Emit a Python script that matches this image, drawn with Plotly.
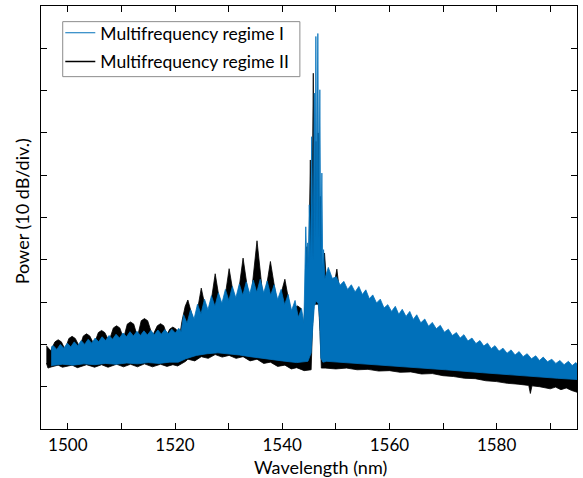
import plotly.graph_objects as go

# ---------------- data (wavelength in nm, power in dB, arbitrary 0 reference) -------------
# Multifrequency regime I (blue): upper envelope (fringe tops and notches) and lower envelope
blue_upper_nm = [1496.9,
    1497.3, 1497.95, 1498.6, 1499.25, 1499.9, 1500.55, 1501.2, 1501.85, 1502.5, 1503.15, 1503.8, 1504.45,
    1505.1, 1505.75, 1506.4, 1507.05, 1507.7, 1508.35, 1509.0, 1509.65, 1510.3, 1510.95, 1511.6, 1512.25,
    1512.9, 1513.55, 1514.2, 1514.85, 1515.5, 1516.15, 1516.8, 1517.45, 1518.1, 1518.75, 1519.4, 1520.05,
    1520.7, 1521.15,
    1521.6, 1522.25, 1522.9, 1523.55, 1524.2, 1524.85, 1525.5, 1526.15, 1526.8, 1527.45, 1528.1, 1528.75,
    1529.4, 1530.05, 1530.7, 1531.35, 1532.0, 1532.65, 1533.3, 1533.95, 1534.6, 1535.25, 1535.9, 1536.55,
    1537.2, 1537.85, 1538.5, 1539.15, 1539.8, 1540.45, 1541.1, 1541.75, 1542.4, 1543.0, 1543.6, 1544.05,
    1544.4, 1544.6, 1544.75, 1544.9, 1545.05, 1545.28, 1545.5, 1545.75, 1546.0, 1546.14, 1546.28, 1546.46,
    1546.65, 1546.84, 1547.02, 1547.2, 1547.4, 1547.56, 1547.72, 1547.95,
    1548.6, 1549.35, 1550.1, 1550.8, 1551.5, 1552.2, 1552.9, 1553.6, 1554.3, 1554.95, 1555.6, 1556.25,
    1556.9, 1557.6, 1558.3, 1559.0, 1559.7, 1560.4, 1561.1, 1561.75, 1562.4, 1563.1, 1563.8, 1564.45,
    1565.1, 1565.85, 1566.6, 1567.3, 1568.0, 1568.75, 1569.5, 1570.25, 1571.0, 1571.75, 1572.5, 1573.2,
    1573.9, 1574.65, 1575.4, 1576.15, 1576.9, 1577.6, 1578.3, 1579.0, 1579.7, 1580.45, 1581.2, 1581.95,
    1582.7, 1583.45, 1584.2, 1584.95, 1585.7, 1586.5, 1587.3, 1588.0, 1588.7, 1589.5, 1590.3, 1591.05,
    1591.8, 1592.6, 1593.4, 1594.1, 1594.8, 1595.0]
blue_upper_db = [-80.6,
    -80.3, -81.2, -80.0, -80.9, -79.7, -80.6, -79.4, -80.3, -79.1, -80.0, -78.8, -79.7,
    -78.5, -79.4, -78.2, -79.1, -77.9, -78.8, -77.6, -78.5, -77.3, -78.2, -77.0, -78.0,
    -76.9, -77.9, -76.8, -77.8, -76.7, -77.7, -76.6, -77.6, -76.5, -77.5, -76.4, -77.3,
    -76.2, -77.0,
    -73.0, -75.0, -71.8, -74.0, -70.5, -72.8, -69.3, -71.8, -68.5, -71.0, -67.8, -70.3,
    -67.0, -69.6, -66.3, -69.0, -65.7, -68.4, -65.2, -68.0, -64.8, -67.7, -64.6, -67.8,
    -65.0, -68.4, -65.9, -69.4, -67.0, -70.6, -68.2, -72.0, -69.6, -73.6, -71.5, -75.0,
    -52.2, -62.0, -56.0, -62.0, -47.0, -60.0, -30.9, -60.0, -20.6, -55.0, -7.2, -50.0,
    -6.5, -55.0, -19.8, -60.0, -39.5, -62.0, -57.6, -64.5,
    -61.8, -64.4, -64.0, -66.0, -65.1, -67.0, -65.9, -67.6, -66.3, -68.2, -67.1, -69.2,
    -68.3, -70.2, -69.3, -71.4, -70.6, -72.2, -71.0, -72.9, -71.7, -73.4, -72.2, -74.1,
    -73.0, -74.9, -74.0, -75.7, -74.8, -76.3, -75.5, -77.1, -76.4, -77.9, -77.2, -78.5,
    -77.7, -79.2, -78.5, -79.8, -79.1, -80.4, -79.7, -81.0, -80.3, -81.6, -80.9, -82.1,
    -81.3, -82.5, -81.7, -82.9, -82.2, -83.4, -82.7, -83.8, -83.0, -84.1, -83.5, -84.5,
    -83.8, -84.8, -84.0, -85.0, -84.3, -84.6]
blue_lower_nm = [1496.9, 1499, 1501, 1503, 1505, 1507, 1509, 1511, 1513, 1515, 1517, 1519, 1520.6,
    1522, 1524, 1526, 1528, 1530, 1532, 1534, 1536, 1538, 1540, 1542.7, 1544.8, 1545.4, 1545.75,
    1546.0, 1546.3, 1546.7, 1547.0, 1547.2, 1547.6, 1548.3, 1552, 1556.6, 1563.5, 1570.5, 1577.4,
    1584.3, 1591.3, 1595.0]
blue_lower_db = [-85.0, -84.7, -84.9, -84.6, -84.8, -84.5, -84.7, -84.4, -84.6, -84.3, -84.5, -84.2, -84.2,
    -83.4, -82.6, -82.2, -82.0, -82.2, -82.5, -82.9, -83.3, -83.6, -83.9, -84.3, -84.0, -82.0, -75.0,
    -71.0, -69.8, -70.2, -74.2, -83.2, -84.2, -84.0, -84.4, -84.8, -85.4, -86.0, -86.7,
    -87.4, -88.0, -88.3]

# Multifrequency regime II (black)
black_upper_nm = [1496.0, 1496.8,
    1497.6, 1498.2, 1498.8, 1499.5, 1500.2, 1500.8, 1501.4, 1502.2, 1502.9, 1503.5, 1504.1, 1504.9,
    1505.7, 1506.3, 1506.9, 1507.7, 1508.5, 1509.1, 1509.7, 1510.4, 1511.1, 1511.7, 1512.3, 1513.0,
    1513.7, 1514.3, 1514.9, 1515.8, 1516.7, 1517.3, 1517.9, 1518.5, 1519.0, 1519.6, 1520.2, 1520.9,
    1521.3, 1521.9, 1522.4, 1522.8, 1523.7, 1524.9, 1526.2, 1527.5, 1528.8, 1530.1, 1531.4, 1532.7,
    1534.0, 1535.3, 1536.55, 1537.8, 1539.15, 1540.5, 1541.7, 1542.3, 1542.9, 1543.5, 1543.9,
    1544.3, 1544.6, 1544.9, 1545.25, 1545.5, 1545.8, 1546.05, 1546.3, 1546.5, 1546.7, 1546.9, 1547.1,
    1547.4, 1547.9, 1548.3, 1549.6, 1550.2, 1550.7, 1552, 1556, 1560, 1565, 1570, 1575, 1580, 1585,
    1590, 1595.0]
black_upper_db = [-80.3, -81.5,
    -79.4, -78.9, -79.4, -81.2, -78.6, -78.1, -78.6, -80.6, -78.0, -77.5, -78.0, -80.0,
    -77.2, -76.7, -77.2, -79.2, -76.1, -75.6, -76.1, -78.6, -75.2, -74.7, -75.2, -78.2,
    -74.4, -73.9, -74.4, -78.0, -75.6, -75.1, -75.6, -77.8, -76.4, -75.9, -76.4, -77.8,
    -74.5, -71.0, -69.5, -71.5, -75.5, -66.7, -74.5, -63.3, -73.5, -62.1, -72.0, -59.6,
    -71.0, -55.5, -70.5, -60.4, -71.0, -64.6, -73.0, -71.2, -70.9, -71.5, -77.0,
    -70.0, -56.9, -66.0, -36.4, -60.0, -15.9, -60.0, -32.0, -60.0, -30.0, -60.0, -45.0,
    -64.0, -58.4, -66.0, -66.5, -62.2, -67.5, -68.5, -70.6, -73.5, -76.0, -78.3, -80.8, -82.7, -84.3,
    -85.5, -86.2]
black_lower_nm = [1496.0, 1496.3, 1497, 1498.2, 1499, 1500.8, 1501.8, 1503.5, 1505, 1506.3, 1507.5, 1509.1,
    1510.4, 1511.7, 1513, 1514.3, 1515.8, 1517.3, 1518.5, 1519.6, 1520.5,
    1522, 1522.4, 1523.7, 1524.9, 1526.2, 1527.5, 1528.8, 1530.1, 1531.4, 1532.7, 1534.0, 1535.3,
    1536.55, 1537.8, 1539.15, 1540.5, 1541.7, 1542.7, 1544.1,
    1545.4, 1545.65, 1545.9, 1546.8, 1547.05, 1547.3, 1548, 1550, 1552, 1554, 1556, 1558, 1560, 1562,
    1564, 1566, 1568, 1570, 1572, 1574, 1576, 1578, 1580, 1582, 1584, 1586, 1586.3, 1586.6, 1588,
    1590, 1591, 1592, 1593, 1594, 1595.0]
black_lower_db = [-84.4, -85.6, -85.3, -84.9, -85.4, -84.9, -85.5, -84.8, -85.4, -84.8, -85.4, -84.7,
    -85.3, -84.7, -85.3, -84.6, -85.3, -84.7, -85.2, -84.8, -85.1,
    -84.0, -83.5, -83.9, -82.9, -83.3, -82.4, -83.0, -82.6, -83.3, -82.9, -83.9, -83.5,
    -84.5, -84.2, -85.2, -84.9, -85.8, -85.5, -86.2,
    -86.0, -76.0, -70.5, -70.5, -77.0, -85.6, -85.6, -85.8, -85.6, -86.0, -85.9, -86.3, -86.2, -86.6,
    -86.5, -87.0, -86.9, -87.4, -87.6, -88.0, -88.1, -88.6, -88.8, -89.2, -89.4, -89.7, -91.6, -89.8, -90.0,
    -90.5, -90.1, -90.7, -90.3, -90.9, -91.3]

series_names = ["Multifrequency regime I", "Multifrequency regime II"]
x_tick_values = [1500, 1510, 1520, 1530, 1540, 1550, 1560, 1570, 1580, 1590]
x_tick_labels = ["1500", "", "1520", "", "1540", "", "1560", "", "1580", ""]
y_tick_values = [-100, -90, -80, -70, -60, -50, -40, -30, -20, -10, 0]

BLUE = "#0070BA"
BLACK = "#000000"
FONT = "Lato"

fig = go.Figure()

# regime II (black) drawn first, regime I (blue) on top
fig.add_trace(go.Scatter(
    x=black_upper_nm + black_lower_nm[::-1],
    y=black_upper_db + black_lower_db[::-1],
    mode="lines", fill="toself", fillcolor=BLACK,
    line=dict(color=BLACK, width=0.8), showlegend=False, hoverinfo="skip"))
fig.add_trace(go.Scatter(
    x=blue_upper_nm + blue_lower_nm[::-1],
    y=blue_upper_db + blue_lower_db[::-1],
    mode="lines", fill="toself", fillcolor=BLUE,
    line=dict(color=BLUE, width=0.8), showlegend=False, hoverinfo="skip"))

# legend entries
fig.add_trace(go.Scatter(x=[None], y=[None], mode="lines", name=series_names[0],
                         legendgroup="g1", line=dict(color=BLUE, width=1)))
fig.add_trace(go.Scatter(x=[None], y=[None], mode="lines", name=series_names[1],
                         legendgroup="g2", line=dict(color=BLACK, width=1.6)))

axis_common = dict(showline=True, linecolor="black", linewidth=1.2, mirror="ticks",
                   ticks="inside", ticklen=6, tickwidth=1.2, tickcolor="black",
                   showgrid=False, zeroline=False)

fig.update_layout(
    width=583, height=478,
    margin=dict(l=41, r=6, t=6, b=49),
    paper_bgcolor="white", plot_bgcolor="white",
    font=dict(family=FONT, size=17, color="black"),
    xaxis=dict(range=[1495, 1595], tickmode="array", tickvals=x_tick_values,
               ticktext=x_tick_labels, tickfont=dict(size=17), **axis_common),
    yaxis=dict(range=[-100, 0], tickmode="array", tickvals=y_tick_values,
               showticklabels=False, **axis_common),
    legend=dict(x=0.036, y=0.979, xanchor="left", yanchor="top",
                bgcolor="rgba(0,0,0,0)", borderwidth=0,
                font=dict(family=FONT, size=17.5), itemwidth=30,
                traceorder="grouped", tracegroupgap=3),
    shapes=[dict(type="rect", xref="paper", yref="paper",
                 x0=0.0405, x1=0.483, y0=0.833, y1=0.963,
                 line=dict(color="#8c8c8c", width=1), fillcolor="white", layer="above")],
    annotations=[
        dict(text="Wavelength (nm)", x=0.522, y=-0.089, xref="paper", yref="paper",
             xanchor="center", yanchor="middle", showarrow=False, font=dict(size=18)),
        dict(text="Power (10 dB/div.)", x=-0.036, y=0.514, xref="paper", yref="paper",
             xanchor="center", yanchor="middle", showarrow=False, textangle=-90,
             font=dict(size=18)),
    ],
)

fig.write_html("out.html")
